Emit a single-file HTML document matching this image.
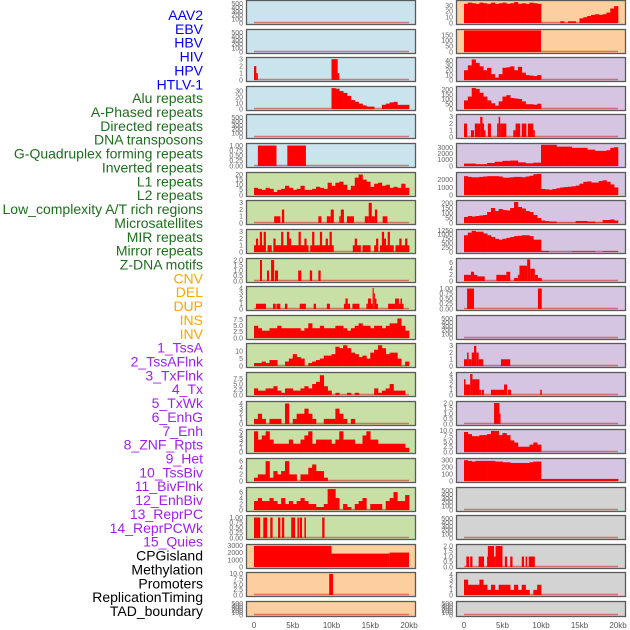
<!DOCTYPE html>
<html><head><meta charset="utf-8">
<style>
html,body{margin:0;padding:0;background:#fff;}
svg{display:block;}
text{font-family:"Liberation Sans",sans-serif;}
</style></head>
<body>
<svg id="chart" width="630" height="630" viewBox="0 0 630 630" xmlns="http://www.w3.org/2000/svg"></svg>
<script>
// ---------- data ----------
const labelNames = ["AAV2","EBV","HBV","HIV","HPV","HTLV-1","Alu repeats","A-Phased repeats","Directed repeats","DNA transposons","G-Quadruplex forming repeats","Inverted repeats","L1 repeats","L2 repeats","Low_complexity A/T rich regions","Microsatellites","MIR repeats","Mirror repeats","Z-DNA motifs","CNV","DEL","DUP","INS","INV","1_TssA","2_TssAFlnk","3_TxFlnk","4_Tx","5_TxWk","6_EnhG","7_Enh","8_ZNF_Rpts","9_Het","10_TssBiv","11_BivFlnk","12_EnhBiv","13_ReprPC","14_ReprPCWk","15_Quies","CPGisland","Methylation","Promoters","ReplicationTiming","TAD_boundary"];
const labelColors = ["#0000ee","#0000ee","#0000ee","#0000ee","#0000ee","#0000ee","#1e6e1e","#1e6e1e","#1e6e1e","#1e6e1e","#1e6e1e","#1e6e1e","#1e6e1e","#1e6e1e","#1e6e1e","#1e6e1e","#1e6e1e","#1e6e1e","#1e6e1e","#ffa500","#ffa500","#ffa500","#ffa500","#ffa500","#a020f0","#a020f0","#a020f0","#a020f0","#a020f0","#a020f0","#a020f0","#a020f0","#a020f0","#a020f0","#a020f0","#a020f0","#a020f0","#a020f0","#a020f0","#000","#000","#000","#000","#000"];
const xTickLabels = ["0","5kb","10kb","15kb","20kb"];
const xTickValues = [0,5,10,15,20];

// series: bins over 0-20kb (uniform) or segments [startKb,endKb,value]
const aav2Segs = [];
const ebvSegs = [];
const hbvSegs = [[0,0.3,2],[0.3,0.5,1],[10,10.8,3],[10.8,11,1]];
const hivBins = [0,0,0,0,0,0,0,0,0,0,0,0,0,0,0,0,0,0,0,0,35,34,30,27,22,15,12,9,6,4,4,0,0,7,9,11,12,7,7,7];
const hpvSegs = [];
const htlvSegs = [[0.5,2.9,1],[4.3,6.7,1]];
const aluBins = [7,6,5,7,6,3,5,6,9,7,5,6,9,5,5,6,8,7,6,12,9,12,13,10,5,9,17,20,15,13,8,11,12,9,10,7,8,7,11,7];
const aphasedSegs = [[2.6,3.4,1],[3.6,3.9,2],[8.3,8.7,1],[9.4,9.9,1],[9.9,10.3,2],[11,11.2,1],[11.2,11.6,2],[12,12.9,1],[14.3,14.8,1],[14.8,15.2,3],[15.2,15.6,1],[15.6,15.9,2],[16.6,17.2,1]];
const directedBins = [1,2,1,3,1,3,0,1,1,0,2,1,1,1,3,1,1,3,2,1,1,1,1,3,1,1,2,1,0,1,3,1,1,1,3,1,1,2,1,3,1,0,0,0,0,0,0,0,0,0,0,1,2,1,1,0,1,1,1,1,0,0,1,2,0,1,3,2,1,3,1,1,0,1,1,2,1,1,2,1];
const dnaSegs = [[0.77,1.03,2],[1.68,1.94,1],[2.2,2.6,2],[2.7,3.1,1],[5.7,6.1,1],[7.2,7.5,1],[8.3,8.6,1]];
const gquadSegs = [[0.25,1.55,1],[2.45,2.8,1],[2.9,3.4,1],[4,4.3,1],[5.9,6.7,1],[7.7,8,1],[9.4,9.8,1],[11.6,11.8,1],[11.8,12.1,2],[12.1,12.4,1],[12.7,13.6,1],[14.5,14.7,1],[14.7,15.1,2],[15.1,15.3,1],[15.3,15.45,4],[15.45,15.6,3],[15.6,15.8,2],[15.8,16,1],[17.3,18.2,1],[18.2,18.7,2],[18.7,18.9,1],[18.9,19.1,2],[19.1,19.3,1]];
const invertedBins = [5,4,3,3,4,4,5,4,4,4,4,4,3,4,6,4,4,5,4,4,4,5,5,4,3,4,5,6,5,5,4,5,5,4,5,6,6,8,5,3];
const l1Bins = [2,2,3,2,4,4,0,0,3,5,8,6,5,0,2,3,4,5,7,7,8,13,12,14,12,9,8,6,7,5,9,11,14,12,8,9,9,5,0,3];
const l2Bins = [3,2,2,3,3,4,2,1,3,3,2,2,3,4,3,5,6,9,4,2,0,1,0,0,1,0,1,0,0,0,0,3,1,2,3,5,2,2,2,0];
const lowcBins = [1,2,1,0,1,1,1,0,4,0,1,2,2,3,2,1,0,0,1,1,1,3,2,1,0,1,0,0,0,0,0,0,0,0,0,0,0,0,0,0];
const microBins = [5,3,4,5,3,2,2,2,2,3,2,2,3,4,5,2,3,3,3,3,2,3,5,3,3,3,2,2,4,5,3,3,2,2,2,2,2,2,2,1];
const mirBins = [1,2,2,6,1,3,2,3,6,2,2,0,2,2,4,5,3,3,1,0,0,0,0,0,0,0,0,0,0,0,0,0,0,0,0,0,0,0,0,0];
const mirrorBins = [3,4,3,3,4,3,2,4,2,3,2,3,4,3,2,2,1,1,2,7,7,4,0,2,1,0,2,3,4,0,2,2,2,0,3,4,6,3,3,5];
const zdnaSegs = [[0,0.8,1],[1.2,1.7,1],[2.1,2.4,1],[3.1,3.4,1],[3.6,3.9,1],[4.8,5.3,1],[5.6,5.8,1],[5.9,6.2,1],[6.5,6.7,1],[8.8,9.1,1]];
const cnvSegs = [[0,10,3000],[10,17.5,1900],[17.5,20,2050]];
const delSegs = [[9.7,10.2,10]];
const dupSegs = [];
const insBins = [33,35,34,33,35,34,33,35,33,34,35,33,34,36,33,34,33,35,34,33,0,0,0,0,0,3,0,3,3,0,8,10,12,14,15,14,15,18,25,29];
const invSegs = [[0,10,200]];
const tssaBins = [20,30,42,35,28,20,25,12,5,12,25,26,28,20,27,15,10,9,8,10,0,0,0,0,0,0,0,0,0,0,0,0,0,0,0,0,0,0,0,0];
const tssaflnkBins = [90,130,220,210,170,130,90,60,35,80,130,145,115,110,105,80,50,50,45,55,0,0,0,0,0,0,0,0,0,0,0,0,0,0,0,0,0,0,0,0];
const txflnkSegs = [[0,0.4,2],[0.9,1.3,1],[1.4,2.1,2],[2.1,2.4,3],[2.4,2.6,2],[2.6,2.8,1],[3.1,3.5,2],[4.3,4.5,2],[4.5,4.7,3],[4.7,5.5,2],[6.4,6.7,1],[6.7,7.3,2],[7.5,8.1,2],[8.3,9,2],[9,9.2,1]];
const txBins = [400,400,400,300,300,300,500,500,700,700,850,850,900,900,600,600,450,450,550,550,3500,3500,3500,3500,3200,3200,3200,3200,3000,3000,3000,3000,2700,2700,2500,2500,2500,2600,3000,3100];
const txwkBins = [2500,2400,2350,2350,2400,2450,2500,2500,2500,2450,2300,2300,2350,2400,2400,2350,2450,2550,2750,2800,800,750,700,800,900,1000,1050,1100,1150,1250,1500,1750,1800,1650,1650,1850,1950,1750,1400,1000];
const enhgBins = [60,70,65,70,75,80,110,150,120,140,130,125,150,210,160,145,120,110,80,50,25,20,15,15,3,3,3,3,3,20,20,20,15,15,5,5,30,30,35,25];
const enhBins = [950,1100,1200,1150,1150,1050,950,850,750,700,750,800,850,900,920,950,950,900,700,700,60,60,5,5,5,5,5,5,40,40,40,40,40,40,0,0,40,40,40,40];
const znfSegs = [[0,0.9,2],[0.9,1.3,3],[1.3,1.7,2],[1.7,2.7,1.5],[4.2,5.5,2],[5.5,6,3],[6.5,7,1],[7,7.2,2],[7.2,8.2,5],[8.2,8.6,7],[8.6,9.2,4],[9.2,9.6,2],[9.6,10.1,1]];
const hetSegs = [[0.4,1.3,1],[9.6,10.1,1]];
const tssbivSegs = [];
const bivflnkSegs = [[0,0.4,1],[0.4,0.6,2],[0.6,1,1],[1,1.3,2],[1.3,1.6,3],[1.6,1.9,2],[1.9,2.5,1],[4.8,6,1]];
const enhbivSegs = [[0,0.2,3],[0.2,0.8,2],[0.8,1.1,4],[1.1,2,3],[2,2.2,1],[2.3,2.6,1],[3.5,4.3,1],[4.3,5.2,1],[5.2,5.6,2],[5.7,6.1,1],[9.9,10.1,1]];
const reprpcSegs = [[3.9,4.6,2],[4.6,4.75,1]];
const reprpcwkBins = [9.5,8.5,7.5,7.5,8,8,8.5,10,10,8,9,8,5.5,4.5,2.5,2.5,2.5,3.5,4.5,3.5,0,0,0,0,0,0,0,0,0,0,0,0,0,0,0,0,0,0,0,0];
const quiesBins = [300,290,280,290,290,290,290,290,280,280,270,270,260,260,260,260,260,270,280,280,30,30,30,30,30,30,30,30,30,30,30,30,30,30,30,30,30,30,30,30];
const cpgSegs = [];
const methSegs = [];
const promoterSegs = [[0.3,0.65,1],[0.8,1.1,1],[1.9,2.6,1],[3,3.1,1],[3.1,3.9,2],[3.9,4.1,1],[4.1,5,2],[5.3,5.6,1],[6,6.3,1],[7.5,7.8,1],[8,8.2,1],[8.4,9.2,1]];
const reptimeBins = [3,2,2,2,3,2,1,2,1,2,2,2,1,2,1,2,1,0,1,2,0,0,0,0,0,0,0,0,0,0,0,0,0,0,0,0,0,0,0,0];
const tadSegs = [];

const emptyTicks = [0,100,200,300,400,500];
// panels: [name, column, row, background, data, kind, yMax, ticks, tickLabels]
const panels = [
 ["aav2",0,0,"#c9e4ec",aav2Segs,"s",560,emptyTicks,null],
 ["ebv",0,1,"#c9e4ec",ebvSegs,"s",560,emptyTicks,null],
 ["hbv",0,2,"#c9e4ec",hbvSegs,"s",3.1,[0,1,2,3],null],
 ["hiv",0,3,"#c9e4ec",hivBins,"b",36,[0,10,20,30],null],
 ["hpv",0,4,"#c9e4ec",hpvSegs,"s",560,emptyTicks,null],
 ["htlv1",0,5,"#c9e4ec",htlvSegs,"s",1.05,[0,0.25,0.5,0.75,1],["0.00","0.25","0.50","0.75","1.00"]],
 ["alu",0,6,"#c8e0a6",aluBins,"b",21,[0,5,10,15,20],null],
 ["aphased",0,7,"#c8e0a6",aphasedSegs,"s",3.2,[0,1,2,3],null],
 ["directed",0,8,"#c8e0a6",directedBins,"b",3.2,[0,1,2,3],null],
 ["dna-transposons",0,9,"#c8e0a6",dnaSegs,"s",2.05,[0,0.5,1,1.5,2],["0.0","0.5","1.0","1.5","2.0"]],
 ["g-quadruplex",0,10,"#c8e0a6",gquadSegs,"s",4.1,[0,1,2,3,4],null],
 ["inverted",0,11,"#c8e0a6",invertedBins,"b",8.8,[0,2.5,5,7.5],["0.0","2.5","5.0","7.5"]],
 ["l1",0,12,"#c8e0a6",l1Bins,"b",14.5,[0,5,10],null],
 ["l2",0,13,"#c8e0a6",l2Bins,"b",9.8,[0,2.5,5,7.5],["0.0","2.5","5.0","7.5"]],
 ["low-complexity",0,14,"#c8e0a6",lowcBins,"b",4.2,[0,1,2,3,4],null],
 ["microsatellites",0,15,"#c8e0a6",microBins,"b",5.2,[0,1,2,3,4,5],null],
 ["mir",0,16,"#c8e0a6",mirBins,"b",6.5,[0,2,4,6],null],
 ["mirror",0,17,"#c8e0a6",mirrorBins,"b",7.2,[0,2,4,6],null],
 ["z-dna",0,18,"#c8e0a6",zdnaSegs,"s",1.05,[0,0.25,0.5,0.75,1],["0.00","0.25","0.50","0.75","1.00"]],
 ["cnv",0,19,"#fecf9e",cnvSegs,"s",3050,[0,1000,2000,3000],null],
 ["del",0,20,"#fecf9e",delSegs,"s",10.2,[0,2.5,5,7.5,10],["0.0","2.5","5.0","7.5","10.0"]],
 ["dup",0,21,"#fecf9e",dupSegs,"s",560,emptyTicks,null],
 ["ins",1,0,"#fecf9e",insBins,"b",37,[0,10,20,30],null],
 ["inv",1,1,"#fecf9e",invSegs,"s",190,[0,50,100,150],null],
 ["tssa",1,2,"#d5c5e2",tssaBins,"b",44,[0,10,20,30,40],null],
 ["tssaflnk",1,3,"#d5c5e2",tssaflnkBins,"b",225,[0,50,100,150,200],null],
 ["txflnk",1,4,"#d5c5e2",txflnkSegs,"s",3.2,[0,1,2,3],null],
 ["tx",1,5,"#d5c5e2",txBins,"b",3550,[0,1000,2000,3000],null],
 ["txwk",1,6,"#d5c5e2",txwkBins,"b",2850,[0,1000,2000],null],
 ["enhg",1,7,"#d5c5e2",enhgBins,"b",215,[0,50,100,150,200],null],
 ["enh",1,8,"#d5c5e2",enhBins,"b",1220,[0,250,500,750,1000,1250],null],
 ["znf",1,9,"#d5c5e2",znfSegs,"s",7,[0,2,4,6],null],
 ["het",1,10,"#d5c5e2",hetSegs,"s",1.05,[0,0.25,0.5,0.75,1],["0.00","0.25","0.50","0.75","1.00"]],
 ["tssbiv",1,11,"#d5c5e2",tssbivSegs,"s",560,emptyTicks,null],
 ["bivflnk",1,12,"#d5c5e2",bivflnkSegs,"s",3.2,[0,1,2,3],null],
 ["enhbiv",1,13,"#d5c5e2",enhbivSegs,"s",4.1,[0,1,2,3,4],null],
 ["reprpc",1,14,"#d5c5e2",reprpcSegs,"s",2.05,[0,0.5,1,1.5,2],["0.0","0.5","1.0","1.5","2.0"]],
 ["reprpcwk",1,15,"#d5c5e2",reprpcwkBins,"b",10.2,[0,2.5,5,7.5,10],["0.0","2.5","5.0","7.5","10.0"]],
 ["quies",1,16,"#d5c5e2",quiesBins,"b",310,[0,100,200,300],null],
 ["cpgisland",1,17,"#d3d3d3",cpgSegs,"s",560,emptyTicks,null],
 ["methylation",1,18,"#d3d3d3",methSegs,"s",560,emptyTicks,null],
 ["promoters",1,19,"#d3d3d3",promoterSegs,"s",2.05,[0,0.5,1,1.5,2],["0.0","0.5","1.0","1.5","2.0"]],
 ["replication-timing",1,20,"#d3d3d3",reptimeBins,"b",4.2,[0,1,2,3,4],null],
 ["tad-boundary",1,21,"#d3d3d3",tadSegs,"s",560,emptyTicks,null]
];

// ---------- drawing ----------
const NS = "http://www.w3.org/2000/svg";
const svg = document.getElementById("chart");
function mk(tag, attrs, parent){
  const e = document.createElementNS(NS, tag);
  for (const k in attrs) e.setAttribute(k, attrs[k]);
  (parent||svg).appendChild(e);
  return e;
}
const colX = [{left:246,right:416,x0:254,x20:409,tickX:243},{left:456,right:626,x0:464,x20:618,tickX:453}];
function rowTop(r){ return Math.round(28.62*r); }
function rowH(r){ return r===21 ? 16 : 25; }

// labels
labelNames.forEach((n,i)=>{
  const t = mk("text",{x:203,y:15+i*13.86+5,"text-anchor":"end","font-size":"14",fill:labelColors[i]});
  t.textContent = n;
  
  
});

panels.forEach(p=>{
  const [name,col,row,bg,data,kind,yMax,ticks,tickLabels] = p;
  const c = colX[col];
  const top = rowTop(row), h = rowH(row), bottom = top + h;
  const g = mk("g",{});
  
  
  const bgRect = mk("rect",{x:c.left+0.5,y:top+0.5,width:c.right-c.left-1,height:h-1,fill:bg,stroke:"#5a5a5a","stroke-width":"1.3"},g);
  
  
  const yb = bottom - 2, yt = top + 1.5;
  const xs = kb => c.x0 + (c.x20 - c.x0) * kb / 20;
  const ys = v => yb - (yb - yt) * Math.min(v, yMax) / yMax;
  // ticks
  ticks.forEach((tv,i)=>{
    const t = mk("text",{x:c.tickX,y:ys(tv)+2.3,"text-anchor":"end","font-size":"7",fill:"#666"},g);
    t.textContent = tickLabels ? tickLabels[i] : String(tv);
    
    
  });
  // baseline
  const bl = mk("line",{x1:xs(0),x2:xs(20),y1:yb-0.5,y2:yb-0.5,stroke:"#d03030","stroke-width":"1.5","stroke-opacity":"0.6"},g);
  
  
  // marks
  if (kind === "b") {
    const w = 20 / data.length;
    data.forEach((v,i)=>{
      if (v <= 0) return;
      const r = mk("rect",{x:xs(i*w),y:ys(v),width:xs((i+1)*w)-xs(i*w)+0.3,height:yb-ys(v),fill:"#ff0000"},g);
      
      
    });
  } else {
    data.forEach(s=>{
      const r = mk("rect",{x:xs(s[0]),y:ys(s[2]),width:Math.max(1,xs(s[1])-xs(s[0])),height:yb-ys(s[2]),fill:"#ff0000"},g);
      
      
    });
  }
});

// x axes
colX.forEach(c=>{
  xTickValues.forEach((v,i)=>{
    const t = mk("text",{x:c.x0+(c.x20-c.x0)*v/20,y:628,"text-anchor":"middle","font-size":"8",fill:"#555"});
    t.textContent = xTickLabels[i];
    
    
  });
});
</script>
</body></html>
